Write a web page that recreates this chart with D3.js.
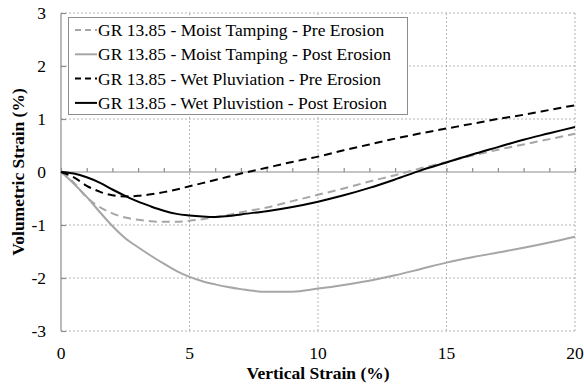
<!DOCTYPE html>
<html>
<head>
<meta charset="utf-8">
<script src="https://cdn.jsdelivr.net/npm/d3@7.9.0/dist/d3.min.js"></script>
<style>
  body { margin: 0; background: #fff; }
  #chart text { font-family: "Liberation Serif" !important; }
</style>
</head>
<body>
<svg id="chart" width="584" height="386" font-family="Liberation Serif"></svg>
<script>
// vertical strain (%) sample points
const strainX = [0, 0.5, 1, 1.5, 2, 2.5, 3, 3.5, 4, 4.5, 5, 5.5, 6, 6.5, 7, 8, 9, 10, 11, 12, 13, 14, 15, 16, 17, 18, 19, 20];

// volumetric strain (%) per test
const moistPre = [0, -0.2, -0.48, -0.66, -0.78, -0.86, -0.9, -0.93, -0.94, -0.94, -0.92, -0.89, -0.85, -0.81, -0.76, -0.67, -0.55, -0.43, -0.31, -0.18, -0.06, 0.07, 0.19, 0.31, 0.42, 0.52, 0.62, 0.72];
const moistPost = [0, -0.22, -0.47, -0.75, -1.02, -1.25, -1.42, -1.58, -1.73, -1.87, -1.98, -2.06, -2.12, -2.17, -2.21, -2.26, -2.26, -2.2, -2.13, -2.05, -1.95, -1.83, -1.71, -1.61, -1.52, -1.43, -1.33, -1.22];
const wetPre = [0, -0.1, -0.26, -0.37, -0.44, -0.46, -0.45, -0.42, -0.38, -0.33, -0.27, -0.21, -0.15, -0.09, -0.03, 0.08, 0.19, 0.29, 0.41, 0.52, 0.63, 0.73, 0.82, 0.91, 1.0, 1.08, 1.17, 1.26];
const wetPost = [0, -0.03, -0.1, -0.2, -0.33, -0.45, -0.56, -0.65, -0.73, -0.79, -0.82, -0.84, -0.85, -0.83, -0.8, -0.74, -0.66, -0.56, -0.44, -0.3, -0.14, 0.03, 0.18, 0.33, 0.47, 0.61, 0.73, 0.85];

const seriesNames = [
  'GR 13.85 - Moist Tamping - Pre Erosion',
  'GR 13.85 - Moist Tamping - Post Erosion',
  'GR 13.85 - Wet Pluviation - Pre Erosion',
  'GR 13.85 - Wet Pluvistion - Post Erosion'
];
const seriesValues = [moistPre, moistPost, wetPre, wetPost];
const seriesColors = ['#a6a6a6', '#a6a6a6', '#000', '#000'];
const seriesDash = ['8,5', null, '8,5', null];

const xTicks = [0, 5, 10, 15, 20];
const yTicks = [-3, -2, -1, 0, 1, 2, 3];

const svg = d3.select('#chart');
const margin = { left: 61, right: 9, top: 13, bottom: 55 };
const width = 584, height = 386;

const x = d3.scaleLinear().domain([0, 20]).range([margin.left, width - margin.right]);
const y = d3.scaleLinear().domain([-3, 3]).range([height - margin.bottom, margin.top]);

function label(sel) {
  return sel.append('text')
    .attr('font-family', 'Liberation Serif')
    .style('font-family', '"Liberation Serif"')
    .attr('font-size', 17.5);
}

// dotted grid
const grid = svg.append('g').attr('stroke', '#b4b4b4').attr('stroke-dasharray', '2,2').attr('stroke-width', 1);
xTicks.filter(d => d > 0).forEach(d => {
  grid.append('line').attr('x1', x(d)).attr('x2', x(d)).attr('y1', y(-3)).attr('y2', y(3));
});
yTicks.filter(d => d !== 0).forEach(d => {
  grid.append('line').attr('x1', x(0)).attr('x2', x(20)).attr('y1', y(d)).attr('y2', y(d));
});

// y axis
const yAxis = svg.append('g').attr('transform', `translate(${x(0)},0)`)
  .call(d3.axisRight(y).tickValues(yTicks).tickSize(5).tickFormat(''));
yAxis.selectAll('path, line').attr('stroke', '#8c8c8c').attr('stroke-width', 1.2);
yAxis.select('.domain').attr('d', `M0,${y(-3)}V${y(3)}`);
yAxis.selectAll('text').remove();

yTicks.forEach(d => {
  label(svg).attr('x', 46).attr('y', y(d)).attr('dy', '0.35em')
    .attr('text-anchor', 'end').text(d);
});

// x axis through zero
const xAxis = svg.append('g').attr('transform', `translate(0,${y(0)})`)
  .call(d3.axisTop(x).ticks(20).tickSize(4).tickFormat(''));
xAxis.selectAll('path, line').attr('stroke', '#8c8c8c').attr('stroke-width', 1.2);
xAxis.select('.domain').attr('d', `M${x(0)},0H${x(20)}`);
xAxis.selectAll('text').remove();

xTicks.forEach(d => {
  label(svg).attr('x', x(d)).attr('y', 353).attr('dy', '0.35em')
    .attr('text-anchor', 'middle').text(d);
});

// curves
const line = d3.line().x((d, i) => x(strainX[i])).y(d => y(d)).curve(d3.curveMonotoneX);
seriesValues.forEach((vals, i) => {
  svg.append('path')
    .attr('d', line(vals))
    .attr('fill', 'none')
    .attr('stroke', seriesColors[i])
    .attr('stroke-width', 2)
    .attr('stroke-dasharray', seriesDash[i]);
});

// axis titles
label(svg).attr('x', (x(0) + x(20)) / 2).attr('y', 379)
  .attr('text-anchor', 'middle').attr('font-weight', 'bold')
  .text('Vertical Strain (%)');
label(svg).attr('transform', `translate(24,${y(0)}) rotate(-90)`)
  .attr('text-anchor', 'middle').attr('font-weight', 'bold')
  .text('Volumetric Strain (%)');

// legend
const legend = svg.append('g');
legend.append('rect').attr('x', 68.5).attr('y', 17.5).attr('width', 339).attr('height', 97)
  .attr('fill', '#fff').attr('stroke', '#8c8c8c').attr('stroke-width', 1);
seriesNames.forEach((name, i) => {
  const cy = 30 + i * 24.3;
  legend.append('line').attr('x1', 75).attr('x2', 97).attr('y1', cy).attr('y2', cy)
    .attr('stroke', seriesColors[i]).attr('stroke-width', 2)
    .attr('stroke-dasharray', seriesDash[i] ? '6,4' : null);
  label(legend).attr('x', 98).attr('y', cy).attr('dy', '0.35em').text(name);
});
</script>
</body>
</html>
